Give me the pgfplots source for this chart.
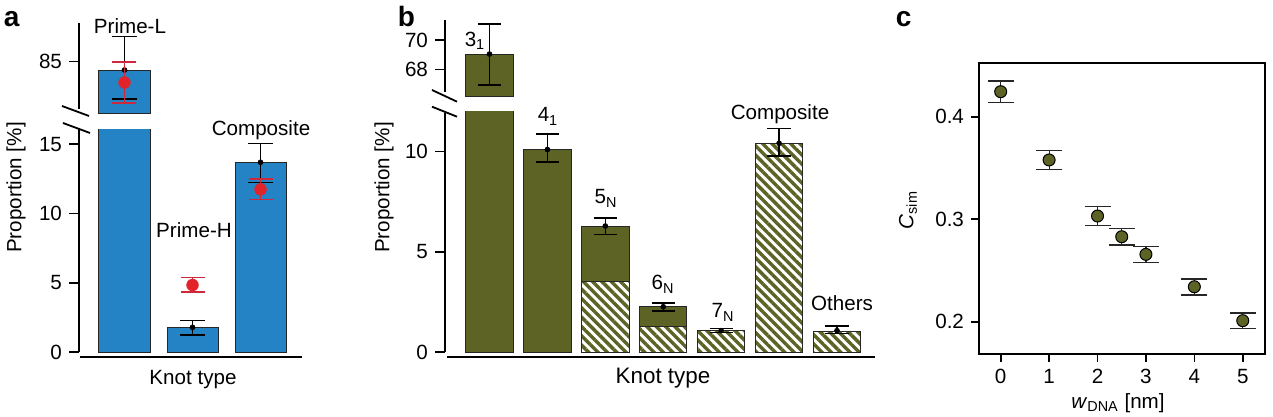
\documentclass[border=0pt]{standalone}
\usepackage{fontspec}
\setmainfont{Liberation Sans}
\usepackage{pgfplots}
\pgfplotsset{compat=1.18}
\usetikzlibrary{patterns.meta}

\definecolor{barblue}{RGB}{36,131,196}
\definecolor{olivebar}{RGB}{92,99,36}
\definecolor{dotred}{RGB}{226,36,42}
\definecolor{errred}{RGB}{205,40,60}

\pgfplotsset{
  brk/.style={
    scale only axis, clip mode=individual,
    axis x line=none, axis y line*=left,
    y axis line style={draw=none},
    tick align=outside, major tick length=5pt,
    tick style={black, line width=0.8pt},
    xtick=\empty,
    /pgf/number format/assume math mode=true,
    tick label style={font=\fontsize{10.3}{12}\selectfont},
  },
  bluebar/.style={ybar, bar width=0.75, bar shift=0pt, fill=barblue, draw=black!85, line width=0.5pt},
  olbar/.style={ybar, bar width=0.82, bar shift=0pt, fill=olivebar, draw=black!85, line width=0.5pt},
  hatbar/.style={ybar, bar width=0.82, bar shift=0pt, fill=white, draw=black!85, line width=0.5pt,
    postaction={pattern={Lines[angle=-45,distance=3.3pt,line width=1.7pt]}, pattern color=olivebar}},
  blkerr/.style={black, only marks, mark=*, mark size=1.2pt,
    error bars/.cd, y dir=both, y explicit,
    error bar style={line width=0.6pt, black},
    error mark options={rotate=90, mark size=#1, line width=0.7pt, black}},
  rederr/.style={dotred, only marks, mark=*, mark size=2.9pt,
    error bars/.cd, y dir=both, y explicit,
    error bar style={line width=0.6pt, errred},
    error mark options={rotate=90, mark size=6pt, line width=0.7pt, errred}},
}

\begin{document}
\begin{tikzpicture}
\path[use as bounding box] (0,0) rectangle (636.5pt,208.5pt);

% ---------------- panel a, lower ----------------
\begin{axis}[brk, at={(39.5pt,32.35pt)}, anchor=south west,
  width=111.5pt, height=111.5pt,
  xmin=-0.669, xmax=2.61, ymin=0, ymax=16.08, ytick={0,5,10,15}]
\addplot[bluebar] coordinates {(0,84.4) (1,1.8) (2,13.7)};
\addplot[blkerr=6.25pt] coordinates {(1,1.8) += (0,0.48) -= (0,0.55) (2,13.7) += (0,1.37) -= (0,1.44)};
\addplot[rederr] coordinates {(1,4.85) += (0,0.56) -= (0,0.5) (2,11.75) += (0,0.75) -= (0,0.72)};
\end{axis}

% ---------------- panel a, upper ----------------
\begin{axis}[brk, at={(39.5pt,151.85pt)}, anchor=south west,
  width=111.5pt, height=45.15pt,
  xmin=-0.669, xmax=2.61, ymin=81.28, ymax=87.79, ytick={85}]
\addplot[bluebar] coordinates {(0,84.4)};
\addplot[blkerr=6.25pt] coordinates {(0,84.4) += (0,2.43) -= (0,2.09)};
\addplot[rederr] coordinates {(0,83.5) += (0,1.48) -= (0,1.48)};
\end{axis}

% ---------------- panel b, lower ----------------
\begin{axis}[brk, at={(222.5pt,32.35pt)}, anchor=south west,
  width=215pt, height=120.15pt,
  xmin=-0.768, xmax=6.656, ymin=0, ymax=11.97, ytick={0,5,10}]
\addplot[olbar] coordinates {(0,69.04) (1,10.08) (2,6.29) (3,2.27)};
\addplot[hatbar] coordinates {(2,3.52) (3,1.28) (4,1.08) (5,10.41) (6,1.06)};
\addplot[blkerr=5.8pt] coordinates {(1,10.1) += (0,0.78) -= (0,0.63)
  (2,6.29) += (0,0.39) -= (0,0.41) (3,2.27) += (0,0.19) -= (0,0.21)
  (4,1.08) += (0,0.1) -= (0,0.08) (5,10.41) += (0,0.75) -= (0,0.63)
  (6,1.08) += (0,0.23) -= (0,0.13)};
\end{axis}

% ---------------- panel b, upper ----------------
\begin{axis}[brk, at={(222.5pt,160pt)}, anchor=south west,
  width=215pt, height=38.5pt,
  xmin=-0.768, xmax=6.656, ymin=66.11, ymax=71.37, ytick={68,70}]
\addplot[olbar] coordinates {(0,69.04)};
\addplot[blkerr=5.8pt] coordinates {(0,69.04) += (0,2.05) -= (0,2.11)};
\end{axis}

% ---------------- panel c ----------------
\begin{axis}[scale only axis, at={(489.5pt,31.5pt)}, anchor=south west,
  width=143pt, height=145.35pt,
  xmin=-0.448, xmax=5.46, ymin=0.1685, ymax=0.4521,
  xtick={0,1,2,3,4,5}, ytick={0.2,0.3,0.4},
  tick pos=left, tick align=outside, major tick length=4pt,
  tick style={black, line width=0.8pt},
  axis line style={line width=1pt},
  /pgf/number format/assume math mode=true,
  yticklabel style={/pgf/number format/.cd, fixed, precision=1, fixed zerofill},
  tick label style={font=\fontsize{10.3}{12}\selectfont}]
\addplot[black, only marks, mark=none,
  error bars/.cd, y dir=both, y explicit,
  error bar style={line width=0.6pt, black!85},
  error mark options={rotate=90, mark size=6.5pt, line width=0.8pt, black!85}]
  coordinates {(0,0.4244) +- (0,0.0104) (1,0.3578) +- (0,0.0094) (2,0.3031) +- (0,0.0092)
  (2.5,0.2829) +- (0,0.0081) (3,0.2657) +- (0,0.0078) (4,0.2341) +- (0,0.0078) (5,0.2010) +- (0,0.0075)};
\addplot[only marks, mark=*, mark size=3pt, mark options={fill=olivebar, draw=black, line width=0.5pt}]
  coordinates {(0,0.4244) (1,0.3578) (2,0.3031) (2.5,0.2829) (3,0.2657) (4,0.2341) (5,0.2010)};
\end{axis}

% ---------------- decorations & labels (pixel coordinates) ----------------
\begin{scope}[x=0.5pt, y=-0.5pt, shift={(0pt,208.5pt)}, line width=0.9pt,
  lab/.style={font=\fontsize{10.3}{12}\selectfont, inner sep=0pt}]
  % panel a axis lines and break marks
  \draw (79,23) -- (79,109);
  \draw (79,128) -- (79,352.3);
  \draw (62,106) -- (89,116);
  \draw (63,123) -- (90,133);
  \draw (80,357) -- (302,357);
  % panel b axis lines and break marks
  \draw (445,20) -- (445,92);
  \draw (445,113) -- (445,352.3);
  \draw (432,90) -- (457,101.7);
  \draw (432,106.7) -- (457,116.7);
  \draw (447,357) -- (875,357);
  % labels a
  \node[lab, anchor=base] at (130,33.5) {Prime-L};
  \node[lab, anchor=base] at (194,238) {Prime-H};
  \node[lab, anchor=base] at (261,136) {Composite};
  \node[lab, anchor=base] at (193,385) {Knot type};
  \node[lab, rotate=90] at (16,187.5) {Proportion [\%]};
  % labels b
  \node[lab, anchor=base] at (475,46.5) {3\textsubscript{1}};
  \node[lab, anchor=base] at (548,122) {4\textsubscript{1}};
  \node[lab, anchor=base] at (606,204) {5\textsubscript{N}};
  \node[lab, anchor=base] at (663,290) {6\textsubscript{N}};
  \node[lab, anchor=base] at (723,318) {7\textsubscript{N}};
  \node[lab, anchor=base] at (780,119.5) {Composite};
  \node[lab, anchor=base] at (842,311) {Others};
  \node[lab, anchor=base, font=\fontsize{11.2}{13}\selectfont] at (663,384) {Knot type};
  \node[lab, rotate=90] at (384,187.5) {Proportion [\%]};
  % labels c
  \node[lab, rotate=90] at (908,210) {\textit{C}\textsubscript{sim}};
  \node[lab, anchor=base] at (1118,408.5) {\textit{w}\textsubscript{DNA} [nm]};
  % panel letters
  \node[anchor=base west, inner sep=0pt, font=\bfseries\fontsize{14}{14}\selectfont] at (3,27) {a};
  \node[anchor=base west, inner sep=0pt, font=\bfseries\fontsize{14}{14}\selectfont] at (397,27) {b};
  \node[anchor=base west, inner sep=0pt, font=\bfseries\fontsize{14}{14}\selectfont] at (895,27) {c};
\end{scope}
\end{tikzpicture}
\end{document}
